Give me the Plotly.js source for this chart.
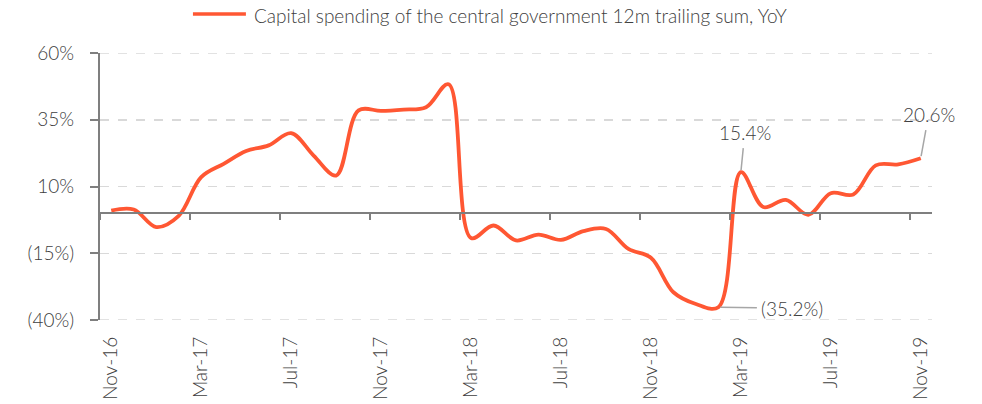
<!DOCTYPE html>
<html>
<head>
<meta charset="utf-8">
<script src="https://cdn.plot.ly/plotly-3.0.1.min.js"></script>
<style>
  html, body { margin: 0; padding: 0; background: #ffffff; }
  #chart { width: 982px; height: 404px; }
</style>
</head>
<body>
<div id="chart"></div>
<script>
// Monthly observations, Nov-16 .. Nov-19
const months = [
  "Nov-16", "Dec-16", "Jan-17", "Feb-17", "Mar-17", "Apr-17", "May-17", "Jun-17",
  "Jul-17", "Aug-17", "Sep-17", "Oct-17", "Nov-17", "Dec-17", "Jan-18", "Feb-18",
  "Mar-18", "Apr-18", "May-18", "Jun-18", "Jul-18", "Aug-18", "Sep-18", "Oct-18",
  "Nov-18", "Dec-18", "Jan-19", "Feb-19", "Mar-19", "Apr-19", "May-19", "Jun-19",
  "Jul-19", "Aug-19", "Sep-19", "Oct-19", "Nov-19"
];

// Capital spending of the central government, 12m trailing sum, YoY (%)
const capexYoY = [
  1.0, 1.4, -5.2, -1.0, 13.5, 18.5, 23.3, 25.4,
  30.0, 21.6, 14.1, 38.5, 38.3, 38.8, 39.7, 48.3,
  -9.3, -4.6, -10.2, -8.0, -10.0, -6.7, -5.9, -13.4,
  -16.7, -29.6, -34.0, -35.2, 15.4, 2.3, 5.0, -0.6,
  7.5, 7.0, 17.9, 18.3, 20.6
];

const seriesName = "Capital spending of the central government 12m trailing sum, YoY";

// Labelled x ticks every fourth month
const xTickLabels = ["Nov-16", "Mar-17", "Jul-17", "Nov-17", "Mar-18", "Jul-18", "Nov-18", "Mar-19", "Jul-19", "Nov-19"];

// Y axis ticks
const yTickValues = [-40, -15, 10, 35, 60];
const yTickLabels = ["(40%)", "(15%)", "10%", "35%", "60%"];

// Highlighted points
const callouts = [
  { month: "Feb-19", text: "(35.2%)", ax: 74, ay: 1 },
  { month: "Mar-19", text: "15.4%", ax: 4, ay: -40 },
  { month: "Nov-19", text: "20.6%", ax: 8, ay: -44 }
];

const FONT = "Lato, 'Open Sans', sans-serif";
const TEXT = "#404040";
const AXIS = "#7f7f7f";
const GRID = "#d9d9d9";
const LINE = "#ff5733";

const idx = months.map((_, i) => i);
const labelIdx = xTickLabels.map(m => months.indexOf(m));
const boundaryIdx = labelIdx.map(i => i - 0.5);

const traces = [
  {
    x: idx, y: capexYoY, name: seriesName,
    type: "scatter", mode: "lines",
    line: { color: LINE, width: 3.8, shape: "spline", smoothing: 1 },
    hoverinfo: "skip", showlegend: false
  },
  {
    // companion trace that carries the axis drawn along the zero level
    x: idx, y: capexYoY, xaxis: "x2", type: "scatter", mode: "lines",
    line: { color: "rgba(0,0,0,0)", width: 0 },
    hoverinfo: "skip", showlegend: false
  }
];

const xRange = [-0.5, months.length - 0.5];
const yRange = [-40, 60];

const annotations = callouts.map(c => {
  const i = months.indexOf(c.month);
  return {
    x: i, y: capexYoY[i], xref: "x", yref: "y",
    text: c.text, showarrow: true, arrowhead: 0, arrowwidth: 1.5,
    arrowcolor: "#a6a6a6", ax: c.ax, ay: c.ay, standoff: 2, borderpad: 4,
    font: { family: FONT, size: 19, color: TEXT, weight: 300 }
  };
});

// Legend entry drawn at the top
const plotLeft = 100, plotWidth = 832.5, plotBottom = 320, plotHeight = 267;
const px = v => (v - plotLeft) / plotWidth;
const py = v => (plotBottom - v) / plotHeight;

annotations.push({
  xref: "paper", yref: "paper", x: px(252), y: py(15), xanchor: "left", yanchor: "middle",
  text: seriesName, showarrow: false,
  font: { family: FONT, size: 19, color: TEXT, weight: 300 }
});

// Dashed gridlines at the two range ends (Plotly skips grid at the edges)
const edgeGrid = [yRange[0], yRange[1]].map(v => ({
  type: "line", xref: "paper", yref: "y", x0: 0, x1: 1, y0: v, y1: v,
  layer: "below", line: { color: GRID, width: 1.5, dash: "dash" }
}));

const layout = {
  width: 982, height: 404,
  margin: { l: 100, r: 49.5, t: 53, b: 84 },
  paper_bgcolor: "#ffffff", plot_bgcolor: "#ffffff",
  showlegend: false,
  font: { family: FONT, size: 19, color: TEXT, weight: 300 },
  xaxis: {
    range: xRange, tickmode: "array", tickvals: labelIdx, ticktext: xTickLabels,
    tickangle: -90, ticks: "", showline: false, showgrid: false, zeroline: false,
    ticklabelstandoff: 12,
    tickfont: { family: FONT, size: 19, color: TEXT, weight: 300 }
  },
  xaxis2: {
    overlaying: "x", anchor: "free", position: (0 - yRange[0]) / (yRange[1] - yRange[0]),
    range: xRange, tickmode: "array", tickvals: boundaryIdx,
    ticks: "outside", ticklen: 6, tickwidth: 2, tickcolor: AXIS,
    showticklabels: false, showline: true, linecolor: AXIS, linewidth: 2,
    showgrid: false, zeroline: false
  },
  yaxis: {
    range: yRange, tickmode: "array", tickvals: yTickValues, ticktext: yTickLabels,
    ticks: "outside", ticklen: 8, tickwidth: 2, tickcolor: AXIS,
    showline: true, linecolor: AXIS, linewidth: 2,
    showgrid: true, gridcolor: GRID, gridwidth: 1.5, griddash: "dash",
    zeroline: false, ticklabelstandoff: 12,
    tickfont: { family: FONT, size: 19, color: TEXT, weight: 300 }
  },
  shapes: [
    ...edgeGrid,
    {
      type: "line", xref: "paper", yref: "paper",
      x0: px(193), x1: px(246), y0: py(14), y1: py(14),
      line: { color: LINE, width: 3.5 }
    }
  ],
  annotations: annotations
};

Plotly.newPlot("chart", traces, layout, { displayModeBar: false, staticPlot: true });
</script>
</body>
</html>
